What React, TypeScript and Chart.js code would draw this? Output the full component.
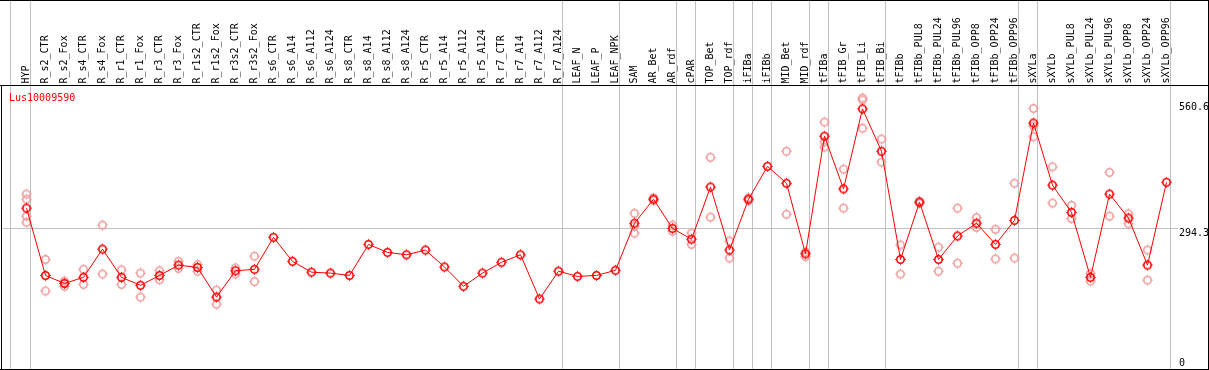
import React, { useEffect, useRef } from "react";
import { Chart, registerables } from "chart.js";

Chart.register(...registerables);

const GENE_ID = "Lus10009590";

const CATEGORIES = [
  "HYP", "R_s2_CTR", "R_s2_Fox", "R_s4_CTR", "R_s4_Fox", "R_r1_CTR", "R_r1_Fox",
  "R_r3_CTR", "R_r3_Fox", "R_r1s2_CTR", "R_r1s2_Fox", "R_r3s2_CTR", "R_r3s2_Fox",
  "R_s6_CTR", "R_s6_A14", "R_s6_A112", "R_s6_A124", "R_s8_CTR", "R_s8_A14",
  "R_s8_A112", "R_s8_A124", "R_r5_CTR", "R_r5_A14", "R_r5_A112", "R_r5_A124",
  "R_r7_CTR", "R_r7_A14", "R_r7_A112", "R_r7_A124", "LEAF_N", "LEAF_P", "LEAF_NPK",
  "SAM", "AR_Bet", "AR_rdf", "cPAR", "TOP_Bet", "TOP_rdf", "iFIBa", "iFIBb",
  "MID_Bet", "MID_rdf", "tFIBa", "tFIB_Gr", "tFIB_Li", "tFIB_Bi", "tFIBb",
  "tFIBb_PUL8", "tFIBb_PUL24", "tFIBb_PUL96", "tFIBb_OPP8", "tFIBb_OPP24", "tFIBb_OPP96",
  "sXYLa", "sXYLb", "sXYLb_PUL8", "sXYLb_PUL24", "sXYLb_PUL96", "sXYLb_OPP8",
  "sXYLb_OPP24", "sXYLb_OPP96",
];

const MEANS = [
  337, 194, 177, 190, 250, 190, 173, 194, 216, 211, 148, 204, 207,
  275, 224, 201, 199, 194, 260, 243, 238, 248, 212, 171, 199,
  222, 238, 144, 203, 192, 194, 205,
  305, 356, 294, 271, 382, 248, 356, 426, 390, 240,
  490, 378, 548, 458, 228, 350, 228, 278, 305, 260, 311,
  518, 386, 328, 190, 367, 316, 216, 392,
];

const REPLICATES = [
  [367, 356, 320, 307], [228, 161], [182, 171, 178], [207, 175], [301, 197],
  [206, 175], [199, 148], [204, 185], [224, 209], [217, 203], [163, 133],
  [197, 210], [235, 181],
  [], [], [], [], [], [], [], [], [], [], [], [],
  [], [], [], [], [], [], [],
  [326, 299, 284], [359, 353], [301, 288], [284, 260], [445, 318], [267, 231],
  [359, 353], [], [458, 324], [244, 234],
  [520, 478, 467], [420, 337], [571, 567, 507], [484, 435], [259, 197],
  [352, 347], [254, 203], [337, 220], [317, 296], [292, 229], [390, 231],
  [549, 512, 489], [425, 348], [343, 315], [198, 182], [413, 320], [325, 304],
  [248, 184], [],
];

const GROUP_LINES = [-0.85, 0.2, 28.2, 31.2, 34.2, 35.2, 37.2, 38.2, 39.2, 41.2, 42.2, 45.2, 52.2, 53.2, 60.2];
const Y_TICKS = [560.6, 294.3, 0];
const GRID_VALUES = [294.3];

const FONT = '10px "DejaVu Sans Mono", monospace';
const MEAN_COLOR = "#ff0000";
const REP_COLOR = "#f29c9c";
const GRAY = "#c0c0c0";

function makeMarker(color: string) {
  const c = document.createElement("canvas");
  c.width = 13;
  c.height = 13;
  const g = c.getContext("2d")!;
  g.strokeStyle = color;
  g.fillStyle = color;
  g.lineWidth = 1.6;
  g.beginPath();
  g.arc(6.5, 6.5, 3.7, 0, Math.PI * 2);
  g.stroke();
  g.globalAlpha = 0.8;
  g.fillRect(6, 1, 1, 1);
  g.fillRect(6, 11, 1, 1);
  g.fillRect(1, 6, 1, 1);
  g.fillRect(11, 6, 1, 1);
  return c;
}

const decor = {
  id: "decor",
  beforeDatasetsDraw(chart: any) {
    const { ctx, chartArea, scales } = chart;
    const xs = scales.x;
    const ys = scales.y;
    const labelX = Math.round(chartArea.right) - 29;
    ctx.save();
    ctx.strokeStyle = GRAY;
    ctx.lineWidth = 1;
    for (const g of GROUP_LINES) {
      const x = Math.floor(xs.getPixelForValue(g)) + 0.5;
      ctx.beginPath();
      ctx.moveTo(x, 0);
      ctx.lineTo(x, chartArea.bottom);
      ctx.stroke();
    }
    for (const v of GRID_VALUES) {
      const y = Math.floor(ys.getPixelForValue(v)) + 0.5;
      ctx.beginPath();
      ctx.moveTo(chartArea.left, y);
      ctx.lineTo(labelX - 1, y);
      ctx.stroke();
    }
    ctx.restore();
  },
  afterDraw(chart: any) {
    const { ctx, chartArea, scales, width, height } = chart;
    const xs = scales.x;
    const ys = scales.y;
    const right = Math.round(chartArea.right);
    ctx.save();
    ctx.font = FONT;
    ctx.fillStyle = "#000";
    ctx.textAlign = "left";
    ctx.textBaseline = "middle";
    CATEGORIES.forEach((lab, i) => {
      const x = xs.getPixelForValue(i);
      ctx.save();
      ctx.translate(x, chartArea.top - 2.5);
      ctx.rotate(-Math.PI / 2);
      ctx.fillText(lab, 0, 0);
      ctx.restore();
    });
    ctx.textBaseline = "alphabetic";
    const labelX = right - 29;
    for (const v of Y_TICKS) {
      const y = Math.min(ys.getPixelForValue(v) + 7.5, chartArea.bottom - 3.5);
      ctx.fillText(String(v), labelX, y);
    }
    ctx.fillStyle = "#ff0000";
    ctx.fillText(GENE_ID, 9, chartArea.top + 15);
    ctx.fillStyle = "#000";
    ctx.fillRect(0, 0, width, 1);
    ctx.fillRect(0, chartArea.top - 1, width, 1);
    ctx.fillRect(0, chartArea.bottom, width, 1);
    ctx.fillRect(1, chartArea.top - 1, 1, chartArea.bottom - chartArea.top + 2);
    ctx.fillRect(right, 0, 2, height);
    ctx.restore();
  },
};

export default function App() {
  const ref = useRef<HTMLCanvasElement | null>(null);
  useEffect(() => {
    const canvas = ref.current;
    if (!canvas) return;
    const meanMarker = makeMarker(MEAN_COLOR);
    const repMarker = makeMarker(REP_COLOR);
    const repPoints: { x: number; y: number }[] = [];
    REPLICATES.forEach((reps, i) => reps.forEach((v) => repPoints.push({ x: i, y: v })));
    const meanPoints = MEANS.map((v, i) => ({ x: i, y: v }));
    const chart = new Chart(canvas, {
      type: "line",
      data: {
        datasets: [
          {
            label: "mean",
            data: meanPoints,
            borderColor: MEAN_COLOR,
            borderWidth: 1,
            pointStyle: meanMarker as any,
            pointRadius: 4,
            showLine: true,
            tension: 0,
            order: 0,
          },
          {
            label: "replicates",
            data: repPoints,
            borderColor: REP_COLOR,
            pointStyle: repMarker as any,
            pointRadius: 4,
            showLine: false,
            order: 1,
          },
        ],
      },
      options: {
        animation: false,
        responsive: false,
        devicePixelRatio: 1,
        layout: { autoPadding: false, padding: { left: 2.5, right: 1.5, top: 86, bottom: 1 } },
        scales: {
          x: { type: "linear", min: -24 / 19, max: 1181 / 19, display: false },
          y: { type: "linear", min: -4.8, max: 596.7, display: false },
        },
        plugins: { legend: { display: false }, tooltip: { enabled: false } },
        clip: false as any,
      },
      plugins: [decor],
    });
    return () => chart.destroy();
  }, []);
  return (
    <div style={{ position: "absolute", left: 0, top: 0, width: 1209, height: 370, background: "#fff" }}>
      <canvas ref={ref} width={1209} height={370} style={{ display: "block", width: 1209, height: 370 }} />
    </div>
  );
}
